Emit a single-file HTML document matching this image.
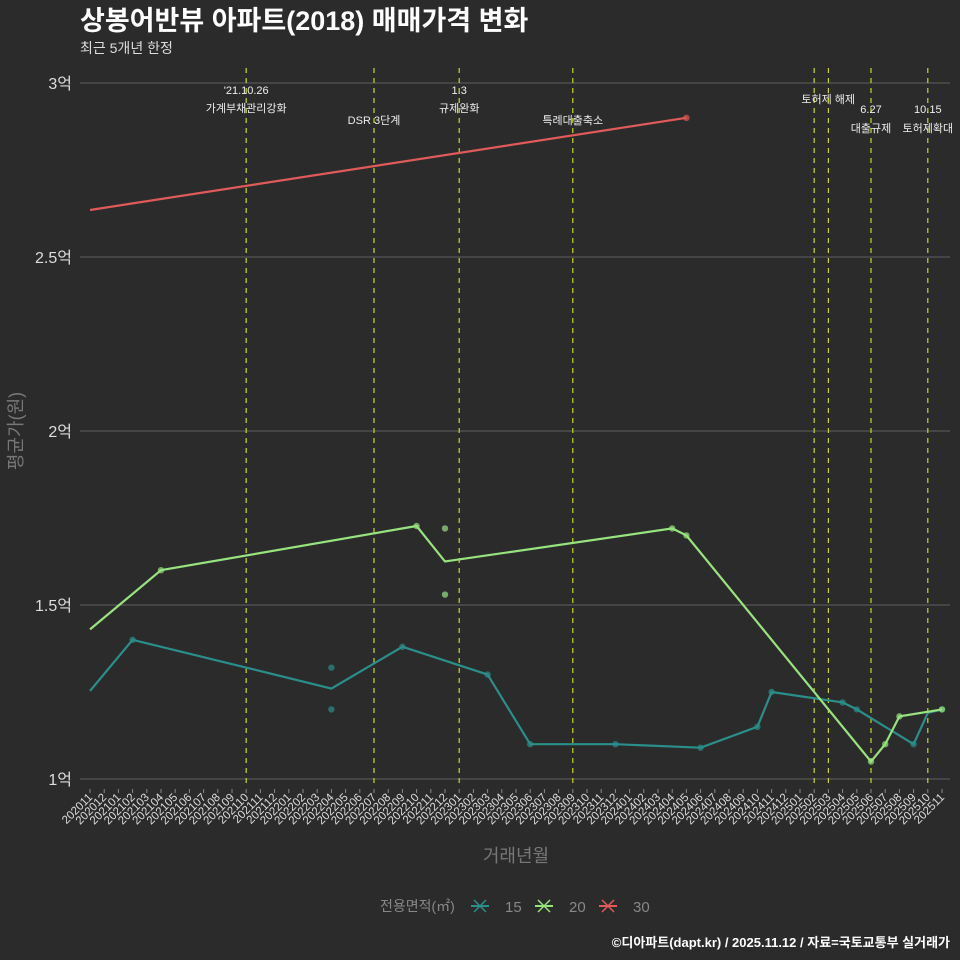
<!DOCTYPE html>
<html><head><meta charset="utf-8"><style>
html,body{margin:0;padding:0;background:#2b2b2b;}
svg{display:block;font-family:"Liberation Sans","Noto Sans CJK KR",sans-serif;}
</style></head><body>
<svg id="chart" width="960" height="960" viewBox="0 0 960 960">
<rect width="960" height="960" fill="#2b2b2b"/>
<text x="80" y="30" fill="#fff" font-size="27" font-weight="bold">상봉어반뷰 아파트(2018) 매매가격 변화</text>
<text x="80" y="53" fill="#ddd" font-size="14">최근 5개년 한정</text>
<g id="grid"></g><g id="vlines"></g><g id="series"></g><g id="xaxis"></g>
<text transform="translate(22,431) rotate(-90)" text-anchor="middle" fill="#777" font-size="18">평균가(원)</text>
<text x="516" y="862" text-anchor="middle" fill="#777" font-size="18">거래년월</text>
<g>
<text x="380" y="911" fill="#888" font-size="14">전용면적(㎡)</text>
<g><line x1="471" y1="906" x2="489" y2="906" stroke="#2a8f8a" stroke-width="2"/><path d="M474,900L486,912M474,912L486,900" stroke="#2a8f8a" stroke-width="1.5"/><text x="505" y="912" fill="#888" font-size="15">15</text></g>
<g><line x1="535" y1="906" x2="553" y2="906" stroke="#97e37d" stroke-width="2"/><path d="M538,900L550,912M538,912L550,900" stroke="#97e37d" stroke-width="1.5"/><text x="569" y="912" fill="#888" font-size="15">20</text></g>
<g><line x1="599" y1="906" x2="617" y2="906" stroke="#e05a5a" stroke-width="2"/><path d="M602,900L614,912M602,912L614,900" stroke="#e05a5a" stroke-width="1.5"/><text x="633" y="912" fill="#888" font-size="15">30</text></g>
</g>
<text x="950" y="947" text-anchor="end" fill="#fff" font-size="13" font-weight="bold">©디아파트(dapt.kr) / 2025.11.12 / 자료=국토교통부 실거래가</text>
</svg>
<script>
const yTicks=[1,1.5,2,2.5,3];
const yTickLabels=["1억","1.5억","2억","2.5억","3억"];
const startYear=2020,startMonth=11,nMonths=61;
const events=["202110","202207","202301","202309","202502","202503","202506","202510"];
const eventLabels=[["'21.10.26","가계부채관리강화"],["DSR 3단계"],["1.3","규제완화"],["특례대출축소"],["토허제 해제"],[""],["6.27","대출규제"],["10.15","토허제확대"]];
const eventLabelY=[[94,112],[124],[94,112],[124],[103],[],[113,132],[113,132]];
const s15Months=["202011","202102","202204","202209","202303","202306","202312","202406","202410","202411","202504","202505","202509","202510","202511"];
const s15Values=[1.253,1.40,1.26,1.38,1.30,1.10,1.10,1.09,1.15,1.25,1.22,1.20,1.10,1.19,1.20];
const s15PtMonths=["202102","202204","202204","202209","202303","202306","202312","202406","202410","202411","202504","202505","202509","202511"];
const s15PtValues=[1.40,1.32,1.20,1.38,1.30,1.10,1.10,1.09,1.15,1.25,1.22,1.20,1.10,1.20];
const s20Months=["202011","202104","202210","202212","202404","202405","202506","202507","202508","202511"];
const s20Values=[1.43,1.60,1.727,1.625,1.72,1.70,1.05,1.10,1.18,1.20];
const s20PtMonths=["202104","202210","202212","202212","202404","202405","202506","202507","202508","202511"];
const s20PtValues=[1.60,1.727,1.72,1.53,1.72,1.70,1.05,1.10,1.18,1.20];
const s30Months=["202011","202405"];
const s30Values=[2.635,2.90];
const s30PtMonths=["202405"];
const s30PtValues=[2.90];

const NS="http://www.w3.org/2000/svg";
const months=[];for(let i=0;i<nMonths;i++){let m=startMonth-1+i;months.push(String(startYear+Math.floor(m/12))+String(m%12+1).padStart(2,'0'));}
const x=m=>90+months.indexOf(m)*(852/(nMonths-1));
const y=v=>779-(v-1)*348;
function mk(p,tag,a){const e=document.createElementNS(NS,tag);for(const k in a)e.setAttribute(k,a[k]);p.appendChild(e);return e;}
const grid=document.getElementById('grid');
yTicks.forEach((t,i)=>{const l=mk(grid,'line',{x1:80,x2:950,y1:y(t),y2:y(t),stroke:'#555','stroke-width':1.2});


const tx=mk(grid,'text',{x:72,y:y(t)+6,'text-anchor':'end',fill:'#ddd','font-size':16});tx.textContent=yTickLabels[i];

});
const vl=document.getElementById('vlines');
events.forEach((ev,i)=>{const X=x(ev);const l=mk(vl,'line',{x1:X,x2:X,y1:68,y2:788,stroke:'#c8d62a','stroke-width':1.2,'stroke-dasharray':'5,5'});


eventLabels[i].forEach((s,j)=>{if(!s)return;const ax=(i==4)?x(events[4])+14:X;const t=mk(vl,'text',{x:ax,y:eventLabelY[i][j],'text-anchor':'middle',fill:'#eee','font-size':11});t.textContent=s;

});});
const sg=document.getElementById('series');
function series(ms,vs,pm,pv,col,name){const p=mk(sg,'polyline',{points:ms.map((m,i)=>x(m)+','+y(vs[i])).join(' '),fill:'none',stroke:col,'stroke-width':2.2});


pm.forEach((m,i)=>{const c=mk(sg,'circle',{cx:x(m),cy:y(pv[i]),r:3.2,fill:col,'fill-opacity':0.7});

});}
series(s15Months,s15Values,s15PtMonths,s15PtValues,'#2a8f8a','15');
series(s20Months,s20Values,s20PtMonths,s20PtValues,'#97e37d','20');
series(s30Months,s30Values,s30PtMonths,s30PtValues,'#e05a5a','30');
const xa=document.getElementById('xaxis');
months.forEach(m=>{const X=x(m);const t=mk(xa,'line',{x1:X,x2:X,y1:789,y2:793,stroke:'#888'});


const tx=mk(xa,'text',{transform:`translate(${X+3},${798}) rotate(-45)`,'text-anchor':'end',fill:'#ddd','font-size':11.5});tx.textContent=m;

});
</script>
</body></html>
